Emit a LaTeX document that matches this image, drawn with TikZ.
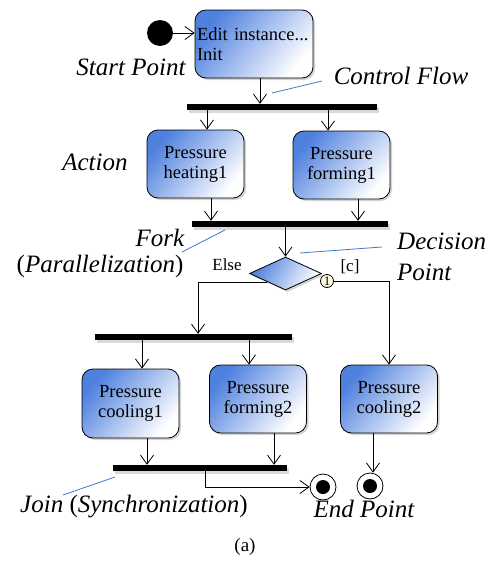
\documentclass[tikz,border=0pt]{standalone}
\usepackage{fontspec}
\setmainfont{Liberation Serif}
\usetikzlibrary{arrows.meta,shapes.geometric,shadows}

\definecolor{actblue}{RGB}{78,128,222}
\definecolor{noteblue}{RGB}{62,122,205}

\tikzset{
  actbox/.style={draw, line width=0.8pt, rounded corners=11pt,
    top color=actblue, bottom color=white, shading angle=50,
    drop shadow={shadow xshift=2pt, shadow yshift=-2pt, opacity=.35},
    minimum width=97pt, minimum height=68pt, inner sep=2pt,
    align=center, font=\fontsize{18.5}{20}\selectfont},
  syncbar/.style={fill=black, inner sep=0pt, minimum height=6pt,
    drop shadow={shadow xshift=2pt, shadow yshift=-3pt, opacity=.3}},
  flow/.style={-{Straight Barb[length=9pt,width=13pt]}, line width=0.8pt},
  note/.style={noteblue, line width=0.8pt},
  lbl/.style={inner sep=0pt, font=\fontsize{25}{31}\selectfont\itshape},
  guard/.style={inner sep=0pt, font=\fontsize{17}{19}\selectfont}
}

\begin{document}
\begin{tikzpicture}[x=1pt,y=1pt,yscale=-1,xscale=1]
\useasboundingbox (0,0) rectangle (489,562);

%Start and first action
\node [circle, fill=black, inner sep=0pt, minimum size=26pt] (start) at (160,33) {};
\node [actbox, text width=114pt, inner xsep=2pt, align=left] (edit) at (254,44) {Edit instance...\\Init};
\draw [flow] (start.east) -- (edit.west |- start.east);

% Fork bar and first pair of actions
\node [syncbar, minimum width=190pt] (bar1) at (282,107) {};
\draw [flow] (edit.south -| 260,0) -- (bar1.north -| 260,0);
\node [actbox] (heat1) at (195.5,164) {Pressure\\heating1};
\node [actbox] (form1) at (341.5,165) {Pressure\\forming1};
\draw [flow] (bar1.south -| 207,0) -- (heat1.north -| 207,0);
\draw [flow] (bar1.south -| 328,0) -- (form1.north -| 328,0);

% Join bar and decision
\node [syncbar, minimum width=196pt] (bar2) at (290,224) {};
\draw [flow] (heat1.south -| 211,0) -- (bar2.north -| 211,0);
\draw [flow] (form1.south -| 358,0) -- (bar2.north -| 358,0);
\node [diamond, draw, line width=0.8pt, top color=actblue, bottom color=white, shading angle=60,
  drop shadow={shadow xshift=2pt, shadow yshift=-2pt, opacity=.35},
  inner sep=0pt, minimum width=72pt, minimum height=33pt] (dec) at (285.5,273.5) {};
\draw [flow] (bar2.south -| dec.north) -- (dec.north);
\node [circle, draw, line width=0.8pt, fill=yellow!12, inner sep=0pt, minimum size=13pt,
  font=\fontsize{13}{13}\selectfont] (one) at (327,281) {1};
\node [guard] (else) at (227,265) {Else};
\node [guard] (cond) at (350,267) {[c]};

% Else branch
\node [syncbar, minimum width=197pt] (bar3) at (193.5,337) {};
\draw [flow] (dec.south west) -| (bar3.north -| 198,0);
\node [actbox, minimum height=69pt] (cool1) at (130.5,403.5) {Pressure\\cooling1};
\node [actbox] (form2) at (258,399) {Pressure\\forming2};
\draw [flow] (bar3.south -| 142,0) -- (cool1.north -| 142,0);
\draw [flow] (bar3.south -| 249,0) -- (form2.north -| 249,0);
\node [syncbar, minimum width=174pt] (bar4) at (200,468) {};
\draw [flow] (cool1.south -| 147,0) -- (bar4.north -| 147,0);
\draw [flow] (form2.south -| 274,0) -- (bar4.north -| 274,0);

% [c] branch
\node [actbox] (cool2) at (389,399) {Pressure\\cooling2};
\draw [flow] (one.east) -| (cool2.north);

% End points
\node [circle, draw, line width=0.8pt, fill=white, inner sep=0pt, minimum size=26pt] (end1) at (323,487) {};
\fill (end1.center) circle [radius=7pt];
\node [circle, draw, line width=0.8pt, fill=white, inner sep=0pt, minimum size=26pt] (end2) at (370,486) {};
\fill (end2.center) circle [radius=7pt];
\draw [flow] (bar4.south -| 205,0) |- (end1.west);
\draw [flow] (cool2.south -| 373,0) -- (end2.north -| 373,0);

% Labels
\node [lbl] (startlbl) at (131,67) {Start Point};
\node [lbl] (cflbl) at (401,76) {Control Flow};
\node [lbl] (actlbl) at (95,162) {Action};
\node [lbl] (forklbl) at (160,238) {Fork};
\node [lbl] (parlbl) at (100,266) {\upshape(\itshape Parallelization\upshape)};
\node [lbl, align=left, anchor=west] (declbl) at (397,257) {Decision\\Point};
\node [lbl] (joinlbl) at (134,507) {Join \upshape(\itshape Synchronization\upshape)};
\node [lbl] (endlbl) at (364,509) {End Point};
\node [font=\fontsize{19}{21}\selectfont] (cap) at (245,547) {(a)};

% Note lines
\coordinate (cf-a) at (272,93);
\coordinate (cf-b) at (322,81);
\draw [note] (cf-a) -- (cf-b);
\coordinate (fk-a) at (225,230);
\coordinate (fk-b) at (182,252);
\draw [note] (fk-a) -- (fk-b);
\coordinate (dp-a) at (300,253);
\coordinate (dp-b) at (382,247);
\draw [note] (dp-a) -- (dp-b);
\coordinate (jn-a) at (115,477);
\coordinate (jn-b) at (63,495);
\draw [note] (jn-a) -- (jn-b);

\end{tikzpicture}
\end{document}
